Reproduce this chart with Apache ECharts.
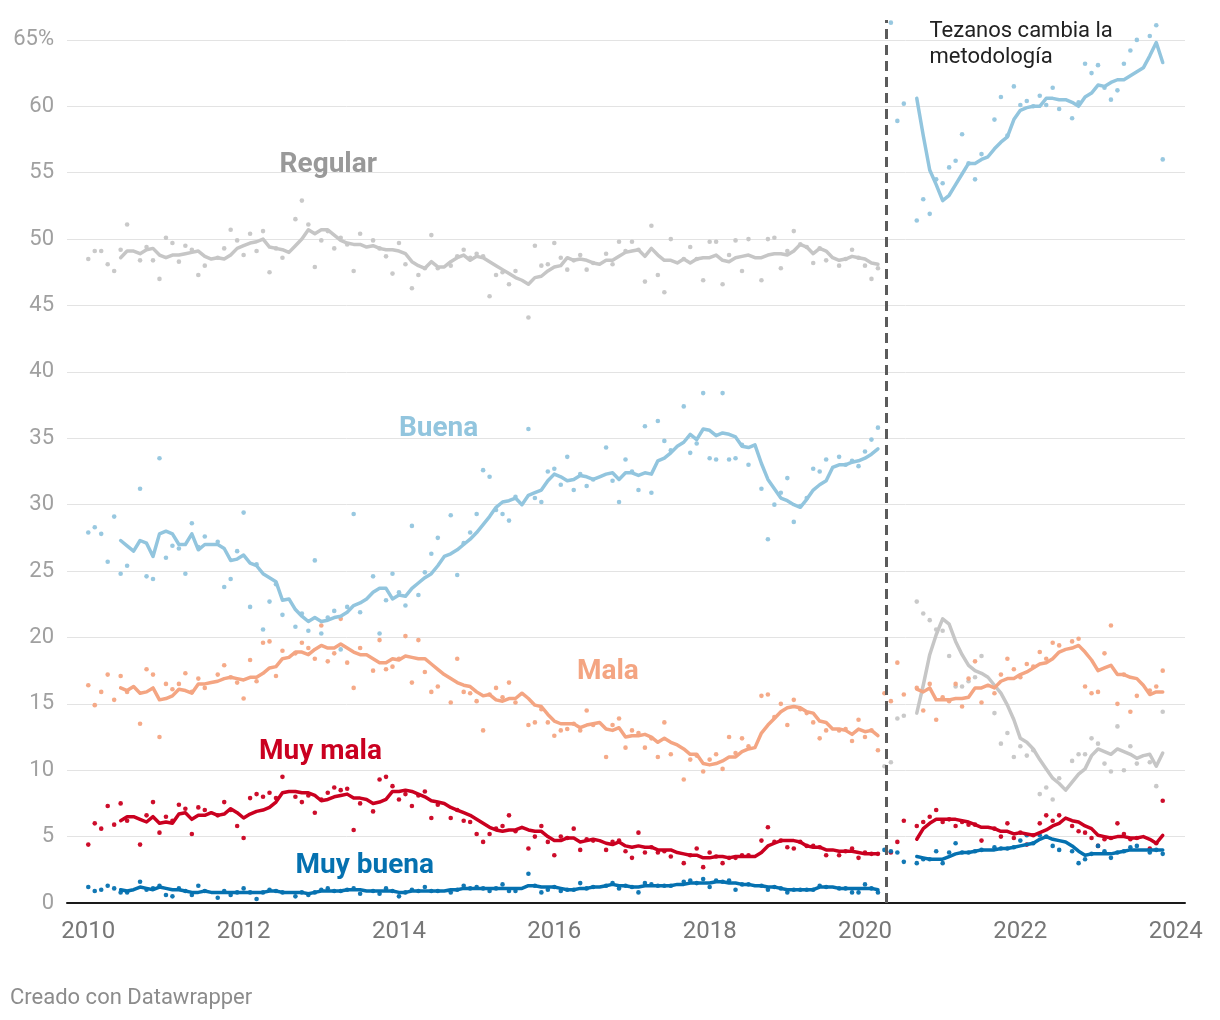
<!DOCTYPE html>
<html><head><meta charset="utf-8">
<script src="https://cdn.jsdelivr.net/npm/echarts@6/dist/echarts.min.js"></script>
<style>html,body{margin:0;padding:0;background:#fff}#chart{width:1220px;height:1020px}</style>
</head><body><div id="chart"></div>
<script>
// ---------- DATA ----------
const FIRST_YEAR = 2010;          // month index 0 = enero 2010
const PRE_DOTS_START = 0;         // enero 2010
const PRE_TREND_START = 5;        // junio 2010
const POST_DOTS_START = 123;      // abril 2020
const POST_TREND_START = 128;     // septiembre 2020
const METHOD_CHANGE = 2020.27;    // "Tezanos cambia la metodología"
const xTickLabels = [2010, 2012, 2014, 2016, 2018, 2020, 2022, 2024];

// Encuestas mensuales, antes del cambio (null = agosto, sin barómetro)
const regularPre = [
  48.5,49.1,49.1,48.1,47.6,49.2,51.1,null,48.4,49.4,48.4,47.0,
  50.1,49.7,48.3,49.5,49.2,47.3,48.0,null,48.6,49.3,50.7,49.9,
  48.8,50.4,49.1,50.6,47.5,49.3,48.6,null,51.5,52.9,51.1,47.9,
  49.9,50.6,49.3,50.1,49.6,47.6,50.4,null,49.9,49.3,48.7,47.4,
  49.7,48.1,46.3,47.3,47.8,50.3,47.8,null,48.0,48.7,49.2,48.6,
  48.9,48.7,45.7,47.3,47.5,46.6,47.6,null,44.1,49.5,48.0,48.1,
  49.7,48.6,47.7,48.4,48.8,47.7,48.2,null,48.9,48.1,49.8,49.1,
  49.8,49.2,46.8,51.0,47.3,46.0,50.0,null,48.5,49.4,48.5,46.9,
  49.8,49.8,46.6,48.8,49.9,47.6,50.0,null,46.9,50.0,50.1,47.8,
  49.1,50.6,49.6,49.4,48.2,49.3,48.4,null,48.0,48.5,49.2,48.6,
  48.0,47.0,47.8
];
const buenaPre = [
  27.9,28.3,27.8,25.7,29.1,24.8,25.4,null,31.2,24.6,24.4,33.5,
  26.0,26.9,26.7,24.8,28.6,26.8,27.6,null,27.2,23.8,24.4,26.5,
  29.4,22.3,25.5,20.6,22.7,24.0,21.7,null,20.8,21.8,20.5,25.8,
  20.3,21.5,22.0,19.1,22.3,29.3,21.9,null,24.6,20.3,22.8,24.8,
  23.4,22.4,28.4,23.2,24.9,26.3,27.5,null,29.2,24.7,27.1,27.9,
  29.3,32.6,32.1,29.6,29.3,28.8,30.6,null,35.7,30.5,30.2,32.5,
  32.7,31.5,33.6,31.1,32.3,31.4,31.9,null,34.3,31.8,30.2,33.4,
  32.5,31.1,35.9,30.9,36.3,34.8,34.1,null,37.4,33.9,34.6,38.4,
  33.5,33.4,38.4,33.4,33.5,34.5,33.0,null,31.2,27.4,30.0,30.9,
  32.0,28.7,29.9,30.5,32.7,32.5,33.4,null,33.6,33.0,33.3,32.9,
  34.0,34.9,35.8
];
const malaPre = [
  16.4,14.9,15.9,17.2,15.3,17.1,15.9,null,13.5,17.6,17.2,12.5,
  16.5,16.1,16.5,17.3,15.9,16.9,16.2,null,17.2,17.9,17.0,16.6,
  15.4,18.3,16.7,19.6,19.7,17.1,19.0,null,18.8,19.6,19.2,18.4,
  20.9,18.2,18.8,21.4,18.1,16.2,19.2,null,17.5,19.8,17.6,17.8,
  18.4,20.1,16.6,19.8,17.4,15.9,16.3,null,15.1,18.4,15.9,15.8,
  15.2,13.0,15.7,16.2,15.5,16.6,15.1,null,13.4,13.6,14.6,13.6,
  12.6,13.0,13.1,13.5,13.0,14.5,13.4,null,11.0,13.4,13.9,11.7,
  13.0,12.8,11.7,12.4,11.0,13.6,11.2,null,9.3,10.8,11.1,9.9,
  10.8,11.2,10.1,12.5,11.3,12.4,11.8,null,15.6,15.7,14.0,15.0,
  13.4,15.3,14.6,14.3,13.6,12.4,13.0,null,13.0,13.1,12.2,13.8,
  12.5,13.0,11.5
];
const muyMalaPre = [
  4.4,6.0,5.6,7.3,5.9,7.5,6.2,null,4.4,6.6,7.6,5.3,
  6.5,6.2,7.4,7.1,5.2,7.2,7.0,null,6.6,7.6,7.0,5.8,
  4.9,7.9,8.2,8.0,8.3,7.9,9.5,null,8.0,7.6,8.1,6.8,
  7.8,8.3,8.7,8.5,8.6,5.5,7.5,null,6.9,9.3,9.5,8.8,
  7.8,8.2,7.3,8.1,8.4,6.4,7.4,null,6.4,7.0,6.2,6.1,
  5.2,4.6,5.2,5.6,5.8,6.6,5.4,null,4.1,5.0,5.8,4.6,
  3.6,5.0,4.9,5.6,4.0,4.8,4.7,null,4.0,4.6,4.7,3.9,
  3.4,5.3,3.8,4.2,3.8,3.9,3.5,null,3.0,3.6,4.1,2.7,
  3.8,3.5,3.0,3.4,3.4,3.6,3.6,null,4.7,5.7,4.6,4.7,
  4.2,4.1,4.6,4.3,4.3,4.2,3.6,null,3.6,3.9,4.1,3.4,
  3.8,3.7,3.7
];
const muyBuenaPre = [
  1.2,0.9,1.0,1.3,1.1,0.8,0.8,null,1.6,1.0,1.1,1.3,
  0.6,0.5,1.1,0.9,0.6,1.3,0.9,null,0.4,0.9,0.6,0.8,
  1.1,0.8,0.3,0.8,1.0,0.9,0.8,null,0.5,0.8,0.6,0.8,
  1.0,1.1,0.9,0.9,1.0,1.1,0.7,null,0.9,0.7,1.1,0.9,
  0.5,0.8,1.0,0.9,1.2,0.9,0.9,null,0.8,1.0,1.3,1.1,
  1.2,1.1,0.9,1.1,1.4,0.9,0.9,null,2.2,1.3,0.8,1.0,
  1.2,0.9,1.0,1.0,1.5,1.1,1.2,null,1.3,1.5,1.1,1.3,
  1.2,0.8,1.5,1.4,1.3,1.3,1.3,null,1.6,1.7,1.5,1.8,
  1.2,1.7,1.6,1.7,1.0,1.4,1.4,null,1.3,1.0,1.2,1.1,
  0.8,1.0,1.0,1.0,1.0,1.3,1.2,null,1.1,1.1,0.8,0.8,
  1.4,1.1,0.8
];

// Tendencia (media móvil), antes del cambio: junio 2010 - marzo 2020
const regularPreTrend = [
  48.6,49.1,49.1,48.9,49.2,49.3,48.8,
  48.6,48.8,48.8,48.9,49.0,49.1,48.7,48.5,48.6,48.5,48.8,49.3,
  49.5,49.7,49.8,50.0,49.4,49.3,49.2,49.0,49.5,50.0,50.7,50.4,
  50.7,50.7,50.3,49.9,49.7,49.6,49.6,49.4,49.5,49.3,49.2,49.2,
  49.1,48.9,48.3,48.0,47.8,48.3,47.9,47.9,48.3,48.6,48.8,48.4,
  48.7,48.6,48.3,48.0,47.7,47.4,47.1,46.9,46.6,47.1,47.2,47.6,
  47.9,48.0,48.6,48.4,48.5,48.4,48.2,48.1,48.4,48.4,48.7,49.0,
  49.1,49.2,48.7,49.3,48.8,48.4,48.4,48.2,48.5,48.2,48.5,48.6,
  48.6,48.8,48.4,48.3,48.6,48.7,48.8,48.6,48.6,48.8,48.9,48.9,
  48.8,49.1,49.6,49.4,48.9,49.3,49.1,48.6,48.4,48.5,48.7,48.6,
  48.5,48.2,48.1
];
const buenaPreTrend = [
  27.3,26.9,26.5,27.3,27.1,26.1,27.8,
  28.0,27.8,27.0,27.0,27.8,26.6,27.0,27.0,27.0,26.7,25.8,25.9,
  26.2,25.6,25.4,24.8,24.5,24.2,22.8,22.9,22.1,21.6,21.2,21.5,
  21.2,21.3,21.5,21.6,21.9,22.4,22.6,22.9,23.4,23.7,23.7,22.9,
  23.2,23.1,23.7,24.1,24.5,24.8,25.4,26.1,26.3,26.6,27.0,27.4,
  27.9,28.5,29.1,29.8,30.2,30.3,30.5,30.0,30.7,30.9,31.1,31.8,
  32.3,32.1,31.8,31.9,32.2,32.1,31.9,32.1,32.3,32.4,31.9,32.4,
  32.4,32.2,32.4,32.3,33.3,33.5,33.9,34.4,34.7,35.3,34.9,35.7,
  35.6,35.2,35.4,35.3,35.1,34.4,34.3,34.5,33.1,31.9,31.2,30.5,
  30.3,30.0,29.8,30.4,31.1,31.5,31.8,32.8,33.0,33.0,33.2,33.3,
  33.5,33.8,34.2
];
const malaPreTrend = [
  16.2,16.0,16.3,15.8,15.9,16.2,15.3,
  15.4,15.6,16.1,16.0,15.8,16.5,16.5,16.6,16.7,16.9,17.0,16.9,
  16.8,17.0,17.0,17.3,17.7,17.8,18.4,18.5,18.9,18.9,18.7,19.1,
  19.4,19.2,19.2,19.5,19.2,18.9,18.7,18.7,18.4,18.1,18.1,18.4,
  18.3,18.6,18.5,18.4,18.4,18.0,17.6,17.2,16.9,16.6,16.4,16.3,
  15.9,15.6,15.7,15.3,15.2,15.4,15.4,15.8,15.4,14.9,14.8,14.2,
  13.7,13.5,13.5,13.5,13.2,13.4,13.5,13.6,13.1,13.0,13.2,12.5,
  12.6,12.6,12.7,12.5,12.1,12.4,12.1,11.9,11.6,11.2,11.2,10.5,
  10.4,10.5,10.7,11.0,11.0,11.4,11.6,11.7,12.8,13.4,13.9,14.4,
  14.7,14.8,14.7,14.4,14.3,13.7,13.6,13.1,13.1,13.0,12.7,13.1,
  12.9,13.0,12.6
];
const muyMalaPreTrend = [
  6.2,6.5,6.5,6.3,6.1,6.5,6.0,
  6.1,6.0,6.7,6.8,6.3,6.6,6.6,6.8,6.6,6.7,7.1,6.8,
  6.4,6.7,6.9,7.0,7.2,7.6,8.3,8.4,8.4,8.3,8.3,8.1,
  7.7,7.8,8.0,8.1,8.2,7.9,7.9,7.8,7.5,7.6,7.8,8.4,
  8.4,8.5,8.4,8.2,8.0,7.7,7.6,7.5,7.2,7.0,6.8,6.6,
  6.3,6.0,5.7,5.5,5.4,5.5,5.5,5.7,5.5,5.4,5.4,5.0,
  4.7,4.7,4.9,4.9,4.6,4.7,4.8,4.7,4.5,4.4,4.6,4.3,
  4.2,4.3,4.2,4.2,4.0,4.0,4.0,3.8,3.7,3.6,3.6,3.4,
  3.4,3.5,3.5,3.4,3.5,3.5,3.5,3.5,3.8,4.3,4.5,4.7,
  4.7,4.7,4.6,4.3,4.2,4.2,4.0,4.0,3.9,3.9,3.9,3.8,
  3.7,3.7,3.7
];
const muyBuenaPreTrend = [
  1.0,0.9,1.0,1.2,1.1,1.0,1.2,
  1.1,1.0,1.0,0.9,0.8,0.8,0.9,0.8,0.8,0.8,0.8,0.8,
  0.8,0.8,0.8,0.8,0.9,0.9,0.8,0.8,0.8,0.8,0.7,0.8,
  0.9,0.9,0.9,0.9,1.0,1.0,1.0,0.9,0.9,0.9,0.9,0.9,
  0.8,0.8,0.9,0.9,0.9,0.9,0.9,0.9,1.0,1.0,1.1,1.1,
  1.1,1.1,1.1,1.1,1.1,1.1,1.1,1.1,1.3,1.3,1.2,1.2,
  1.2,1.1,1.0,1.0,1.1,1.1,1.2,1.2,1.3,1.4,1.3,1.3,
  1.2,1.2,1.3,1.3,1.3,1.3,1.3,1.4,1.4,1.5,1.5,1.5,
  1.5,1.6,1.6,1.5,1.5,1.4,1.4,1.3,1.3,1.2,1.2,1.1,
  1.0,1.0,1.0,1.0,1.0,1.2,1.2,1.2,1.1,1.1,1.1,1.1,
  1.1,1.1,1.0
];

// Encuestas mensuales, después del cambio: abril 2020 - noviembre 2023
const regularPost = [
  10.3,
  10.6,13.9,14.1,null,22.7,21.8,21.3,20.6,
  20.5,18.6,16.3,16.3,16.7,17.0,18.6,null,14.3,12.0,12.8,11.0,
  11.8,11.1,11.5,8.2,8.7,7.8,9.4,null,10.7,11.2,11.2,12.4,
  12.0,10.5,9.9,13.3,10.0,11.8,10.5,null,10.6,8.8,14.4
];
const buenaPost = [
  null,
  66.3,58.9,60.2,null,51.4,53.0,51.9,54.5,
  54.2,55.4,55.9,57.9,55.7,54.5,56.4,null,59.0,60.7,57.8,61.5,
  60.1,60.4,60.0,60.8,60.1,61.4,59.8,null,59.1,60.3,63.2,62.5,
  63.1,61.4,60.5,61.2,63.2,64.2,65.0,null,65.3,66.1,56.0
];
const malaPost = [
  15.8,
  15.2,18.1,15.7,null,16.2,14.5,16.5,13.8,
  15.5,15.2,16.5,14.8,16.9,18.2,15.1,null,15.8,17.2,18.4,17.6,
  17.0,18.0,17.8,18.9,18.4,19.6,19.4,null,19.7,19.9,16.3,15.8,
  15.9,18.8,20.9,15.0,17.2,14.4,15.6,null,16.0,16.3,17.5
];
const muyMalaPost = [
  null,
  3.8,4.6,6.2,null,5.8,6.1,6.5,7.0,
  6.1,6.3,5.8,6.1,5.9,5.9,4.7,null,5.6,5.0,6.0,4.9,
  5.3,4.4,5.1,6.0,6.6,6.2,6.6,null,5.8,5.4,5.3,4.9,
  4.3,4.8,4.9,6.0,5.2,4.8,4.9,null,4.1,4.5,7.7
];
const muyBuenaPost = [
  4.0,
  3.9,3.8,3.1,null,3.0,3.3,3.3,3.9,
  3.0,3.8,4.5,3.8,3.8,3.9,4.0,null,4.2,4.1,4.1,4.2,
  4.7,5.1,4.5,5.1,5.0,4.3,4.0,null,3.9,3.0,3.3,3.7,
  4.3,3.9,3.4,3.8,3.9,4.2,4.3,null,3.8,4.0,3.7
];

// Tendencia, después del cambio: septiembre 2020 - noviembre 2023
const regularPostTrend = [
  14.3,16.4,18.7,20.2,
  21.4,21.0,19.7,18.7,17.9,17.5,17.3,17.0,16.4,15.8,14.9,13.8,
  12.4,12.1,11.6,10.8,10.1,9.4,9.0,8.5,9.1,9.7,10.1,11.1,
  11.6,11.4,11.2,11.6,11.4,11.2,10.9,11.1,11.2,10.3,11.3
];
const buenaPostTrend = [
  60.6,57.8,55.2,54.1,
  52.9,53.3,54.1,54.9,55.7,55.7,56.0,56.2,56.8,57.3,57.7,59.0,
  59.7,59.9,60.0,60.0,60.6,60.6,60.5,60.5,60.3,60.0,60.7,61.0,
  61.6,61.5,61.8,62.0,62.0,62.3,62.6,62.9,63.8,64.8,63.3
];
const malaPostTrend = [
  16.1,15.9,16.2,15.3,
  15.3,15.3,15.4,15.4,15.5,16.2,16.2,16.4,16.2,16.7,16.9,16.9,
  17.2,17.4,17.7,18.0,18.1,18.4,18.9,19.1,19.2,19.4,18.9,18.3,
  17.5,17.7,17.9,17.2,17.2,17.0,16.9,16.4,15.7,15.9,15.9
];
const muyMalaPostTrend = [
  4.8,5.6,6.0,6.3,
  6.3,6.3,6.3,6.2,6.1,5.9,5.7,5.7,5.6,5.4,5.4,5.2,
  5.3,5.2,5.1,5.3,5.5,5.8,6.0,6.4,6.2,6.1,5.8,5.6,
  5.1,5.0,4.9,5.0,5.0,4.9,4.9,5.0,4.8,4.5,5.1
];
const muyBuenaPostTrend = [
  3.5,3.4,3.3,3.3,
  3.3,3.5,3.7,3.8,3.8,3.9,4.0,4.0,4.0,4.1,4.1,4.2,
  4.3,4.4,4.5,4.8,5.0,4.8,4.7,4.6,4.3,3.9,3.6,3.7,
  3.7,3.7,3.7,3.8,3.9,4.0,4.0,4.0,4.0,4.0,4.0
];

// ---------- STYLE ----------
const COLORS = {
  regular: '#c6c6c6', regularLabel: '#999999',
  buena: '#92c5de', mala: '#f4a582', muyMala: '#ca0020', muyBuena: '#0571b0'
};
const FONT = 'Roboto';

// Series name labels, anchored in data space [year, %]
const nameLabels = [
  { text: 'Regular',   at: [2013.09, 55.57], color: COLORS.regularLabel },
  { text: 'Buena',     at: [2014.51, 35.70], color: COLORS.buena },
  { text: 'Mala',      at: [2016.69, 17.40], color: COLORS.mala },
  { text: 'Muy mala',  at: [2012.99, 11.37], color: COLORS.muyMala },
  { text: 'Muy buena', at: [2013.56, 2.80],  color: COLORS.muyBuena }
];
const noteAnchor = [2020.824, 64.68];

function toPoints(values, startMonth) {
  const pts = [];
  values.forEach((v, i) => {
    if (v !== null) pts.push([FIRST_YEAR + (startMonth + i) / 12, v]);
  });
  return pts;
}
function dots(data, color) {
  return { type: 'scatter', data, symbolSize: 4.6, clip: false, silent: true, z: 2,
           itemStyle: { color, opacity: 0.95 } };
}
function trend(data, color, extra) {
  return Object.assign({ type: 'line', data, showSymbol: false, symbol: 'none', silent: true, z: 3,
           lineStyle: { color, width: 3.5, join: 'round', cap: 'round' } }, extra || {});
}

const chart = echarts.init(document.getElementById('chart'), null, { renderer: 'canvas' });

const series = [
  dots(toPoints(regularPre, PRE_DOTS_START), COLORS.regular),
  dots(toPoints(regularPost, POST_DOTS_START), COLORS.regular),
  dots(toPoints(buenaPre, PRE_DOTS_START), COLORS.buena),
  dots(toPoints(buenaPost, POST_DOTS_START), COLORS.buena),
  dots(toPoints(malaPre, PRE_DOTS_START), COLORS.mala),
  dots(toPoints(malaPost, POST_DOTS_START), COLORS.mala),
  dots(toPoints(muyMalaPre, PRE_DOTS_START), COLORS.muyMala),
  dots(toPoints(muyMalaPost, POST_DOTS_START), COLORS.muyMala),
  dots(toPoints(muyBuenaPre, PRE_DOTS_START), COLORS.muyBuena),
  dots(toPoints(muyBuenaPost, POST_DOTS_START), COLORS.muyBuena),

  trend(toPoints(regularPreTrend, PRE_TREND_START), COLORS.regular),
  trend(toPoints(regularPostTrend, POST_TREND_START), COLORS.regular),
  trend(toPoints(buenaPreTrend, PRE_TREND_START), COLORS.buena),
  trend(toPoints(buenaPostTrend, POST_TREND_START), COLORS.buena),
  trend(toPoints(malaPreTrend, PRE_TREND_START), COLORS.mala),
  trend(toPoints(malaPostTrend, POST_TREND_START), COLORS.mala),
  trend(toPoints(muyMalaPreTrend, PRE_TREND_START), COLORS.muyMala),
  trend(toPoints(muyMalaPostTrend, POST_TREND_START), COLORS.muyMala),
  trend(toPoints(muyBuenaPreTrend, PRE_TREND_START), COLORS.muyBuena),
  trend(toPoints(muyBuenaPostTrend, POST_TREND_START), COLORS.muyBuena, {
    markLine: {
      silent: true, symbol: ['none', 'none'], label: { show: false }, z: 6,
      lineStyle: { color: '#5b5b5b', width: 3, type: [10, 6], opacity: 1 },
      data: [{ xAxis: METHOD_CHANGE }]
    }
  }),

  // text annotations
  {
    type: 'scatter', silent: true, clip: false, z: 7, symbolSize: 1,
    itemStyle: { color: 'rgba(0,0,0,0)' },
    data: nameLabels.map(l => ({
      value: l.at,
      label: { show: true, position: 'inside', formatter: l.text, color: l.color,
               textBorderWidth: 0, textShadowBlur: 0, opacity: 1,
               fontFamily: FONT, fontWeight: 'bold', fontSize: 28 }
    })).concat([{
      value: noteAnchor,
      label: { show: true, position: 'right', distance: 0, align: 'left', verticalAlign: 'middle',
               formatter: 'Tezanos cambia la\nmetodología', color: '#222222',
               textBorderWidth: 0, opacity: 1,
               fontFamily: FONT, fontSize: 22, lineHeight: 26 }
    }])
  }
];

chart.setOption({
  animation: false,
  backgroundColor: '#ffffff',
  title: {
    text: 'Creado con Datawrapper', left: 5, bottom: 6,
    textStyle: { fontFamily: FONT, fontSize: 22, fontWeight: 'normal', color: '#8c8c8c' }
  },
  grid: { left: 67, right: 35, top: 20, bottom: 117, containLabel: false, outerBoundsMode: 'none' },
  xAxis: {
    type: 'value', min: 2009.726, max: 2024.12,
    axisLine: { show: true, onZero: true, lineStyle: { color: '#1a1a1a', width: 2 } },
    axisTick: { show: false },
    splitLine: { show: false },
    axisLabel: { customValues: xTickLabels, formatter: v => String(v), color: '#777777',
                 fontFamily: FONT, fontSize: 24, margin: 17 }
  },
  yAxis: {
    type: 'value', min: 0, max: 66.5, interval: 5,
    axisLine: { show: false }, axisTick: { show: false },
    splitLine: { show: true, showMaxLine: false, lineStyle: { color: '#e3e3e3', width: 1 } },
    axisLabel: {
      color: '#a0a0a0', fontFamily: FONT, fontSize: 22, margin: 13,
      formatter: v => (v === 65 ? '65%' : (v % 5 === 0 ? String(v) : ''))
    }
  },
  series
});
</script>
</body></html>
